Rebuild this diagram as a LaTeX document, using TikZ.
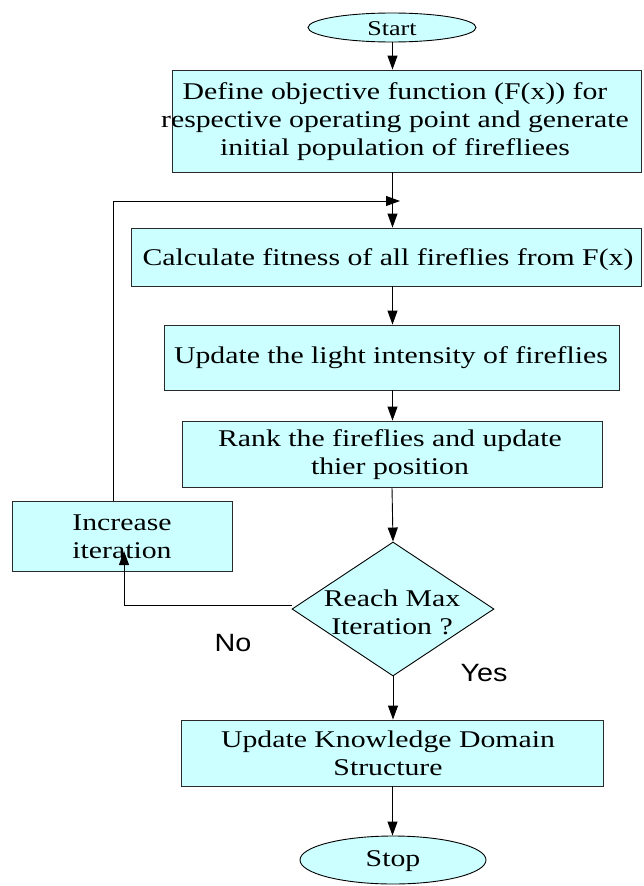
\documentclass[tikz,border=0pt]{standalone}
\usepackage{fontspec}
\setmainfont{Liberation Serif}[FakeStretch=1.24]
\newfontfamily\arialf{Liberation Sans}[FakeStretch=1.15]
\usetikzlibrary{arrows.meta,shapes.geometric}
\definecolor{boxfill}{HTML}{CCFFFF}
\definecolor{edgec}{HTML}{2A2A2A}
\begin{document}
\begin{tikzpicture}[x=1pt,y=-1pt,
  box/.style={draw=edgec, fill=boxfill, line width=0.9pt, rectangle, inner sep=0pt},
  oval/.style={draw=black, fill=boxfill, line width=0.9pt, ellipse, inner sep=0pt},
  decision/.style={draw=black, fill=boxfill, line width=0.9pt, diamond, inner sep=0pt},
  txt/.style={inner sep=0pt, align=center, font=\fontsize{24}{28}\selectfont},
  lbl/.style={inner sep=0pt, font=\arialf\fontsize{25}{30}\selectfont},
  conn/.style={line width=0.9pt, draw=black, -{Triangle[length=14pt,width=10pt]}}]
\path[fill=white, use as bounding box] (0,0) rectangle (643,886);

\coordinate (spine) at (392.5,0);
\coordinate (join) at (400,201);
\coordinate (notip) at (124,551);

% shapes
\node[oval, minimum width=168pt, minimum height=29pt] (start) at (392,27.5) {};
\node[box, minimum width=469pt, minimum height=102pt] (b1) at (406.5,121) {};
\node[box, minimum width=510pt, minimum height=58pt] (b2) at (386,257) {};
\node[box, minimum width=455pt, minimum height=65pt] (b3) at (391.5,357.5) {};
\node[box, minimum width=420pt, minimum height=66pt] (b4) at (392,454) {};
\node[box, minimum width=220pt, minimum height=70pt] (inc) at (122,536) {};
\node[decision, minimum width=202pt, minimum height=134pt] (dia) at (393,609) {};
\node[box, minimum width=422pt, minimum height=66pt] (b5) at (392,753) {};
\node[oval, minimum width=186pt, minimum height=48pt] (stop) at (393,860) {};

% texts
\node[txt, font=\fontsize{21}{24}\selectfont] (tstart) at (392,29) {Start};
\node[txt] (t1) at (395,122) {Define objective function (F(x)) for\\respective operating point and generate\\initial population of firefliees};
\node[txt] (t2) at (388,260) {Calculate fitness of all fireflies from F(x)};
\node[txt] (t3) at (391,358) {Update the light intensity of fireflies};
\node[txt] (t4) at (390,455) {Rank the fireflies and update\\thier position};
\node[txt] (tinc) at (122,537) {Increase\\iteration};
\node[txt] (tdia) at (392,612) {Reach Max\\Iteration ?};
\node[txt] (t5) at (388,753) {Update Knowledge Domain\\Structure};
\node[txt, font=\fontsize{24}{28}\selectfont] (tstop) at (393,861) {Stop};
\node[lbl] (lno) at (233,643) {No};
\node[lbl] (lyes) at (484,673) {Yes};

% connectors
\draw[conn] (start.south -| spine) -- (b1.north -| spine);
\draw[conn] (b1.south -| spine) -- (b2.north -| spine);
\draw[conn] ([xshift=-9pt]inc.north) |- (join);
\draw[conn] (b2.south -| spine) -- (b3.north -| spine);
\draw[conn] (b3.south -| spine) -- (b4.north -| spine);
\draw[conn] (b4.south) -- (dia.north);
\draw[conn] ([yshift=4pt]dia.west) -| (notip);
\draw[conn] (dia.south) -- (dia.south |- b5.north);
\draw[conn] (b5.south -| spine) -- (stop.north -| spine);
\end{tikzpicture}
\end{document}
